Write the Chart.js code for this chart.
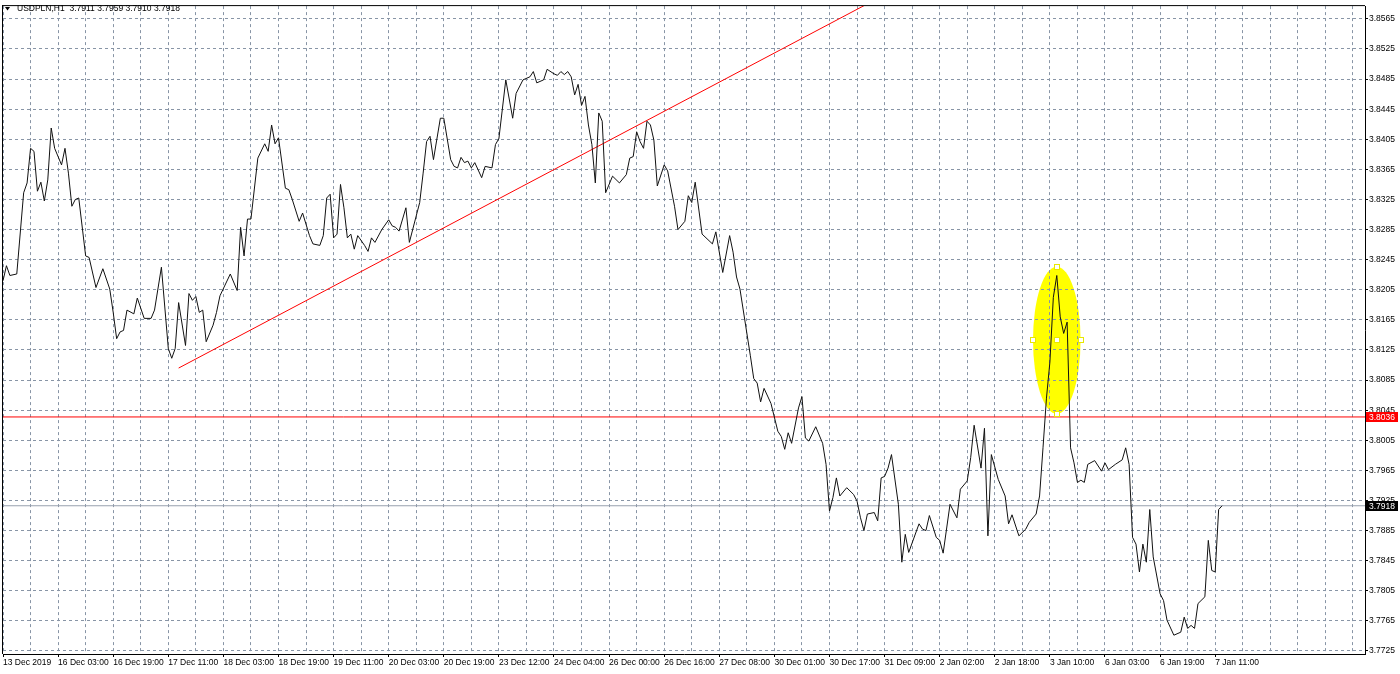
<!DOCTYPE html>
<html>
<head>
<meta charset="utf-8">
<title>USDPLN,H1</title>
<script src="https://cdn.jsdelivr.net/npm/chart.js@4.4.1/dist/chart.umd.min.js"></script>
<style>
  html, body { margin: 0; padding: 0; background: #fff; }
  #wrap { position: relative; width: 1400px; height: 674px; }
</style>
</head>
<body>
<div id="wrap"><canvas id="chart" width="1400" height="674"></canvas></div>
<script>
// --- data (bar index = hours from 13 Dec 2019 11:00, trading bars only) ---
const symbolTitle = 'USDPLN,H1  3.7911 3.7959 3.7910 3.7918';
const timeLabels = ['13 Dec 2019', '16 Dec 03:00', '16 Dec 19:00', '17 Dec 11:00', '18 Dec 03:00', '18 Dec 19:00',
    '19 Dec 11:00', '20 Dec 03:00', '20 Dec 19:00', '23 Dec 12:00', '24 Dec 04:00', '26 Dec 00:00', '26 Dec 16:00',
    '27 Dec 08:00', '30 Dec 01:00', '30 Dec 17:00', '31 Dec 09:00', '2 Jan 02:00', '2 Jan 18:00', '3 Jan 10:00',
    '6 Jan 03:00', '6 Jan 19:00', '7 Jan 11:00'];
const barsPerLabel = 16;
const barsPerGrid = 8;
const priceTicks = [3.7725, 3.7765, 3.7805, 3.7845, 3.7885, 3.7925, 3.7965, 3.8005, 3.8045, 3.8085, 3.8125,
    3.8165, 3.8205, 3.8245, 3.8285, 3.8325, 3.8365, 3.8405, 3.8445, 3.8485, 3.8525, 3.8565];

const barIdx = [0, 1, 2, 4, 6, 7, 8, 9, 10, 11, 12, 13, 14, 15, 17, 18, 19, 20, 21, 22, 24, 25, 27, 29, 31, 32, 33, 34, 35, 36,
    38, 39, 41, 43, 44, 46, 48, 49, 50, 51, 53, 54, 55, 56, 57, 58, 59, 61, 62, 63, 66, 68, 69, 70, 71, 72, 74, 76, 77, 78,
    79, 80, 82, 83, 84, 86, 87, 89, 90, 92, 93, 94, 95, 96, 97, 98, 99, 100, 101, 102, 103, 105, 106, 107, 108, 110, 112, 113, 114, 115,
    117, 118, 121, 122, 123, 124, 125, 127, 128, 130, 131, 132, 133, 134, 135, 136, 137, 139, 140, 142, 143, 144, 146, 148, 149, 151, 153, 154, 155, 157,
    158, 160, 161, 162, 163, 164, 165, 166, 167, 168, 169, 170, 171, 172, 173, 174, 175, 177, 179, 181, 182, 183, 184, 185, 186, 187, 188, 189, 190, 192,
    193, 195, 196, 198, 199, 200, 201, 203, 206, 207, 209, 211, 212, 213, 214, 217, 218, 219, 220, 221, 223, 225, 226, 227, 228, 229, 231, 232, 233, 234,
    236, 238, 239, 240, 241, 242, 243, 245, 247, 248, 249, 250, 251, 253, 254, 255, 256, 257, 258, 260, 261, 262, 263, 266, 267, 268, 269, 271, 272, 273,
    275, 277, 278, 280, 281, 282, 284, 285, 286, 287, 289, 291, 292, 293, 295, 297, 298, 300, 301, 302, 303, 304, 305, 306, 307, 308, 309, 310, 311, 312,
    313, 314, 315, 317, 319, 320, 321, 323, 325, 326, 327, 328, 329, 330, 331, 332, 333, 334, 336, 337, 338, 340, 342, 343, 344, 345, 346, 347, 349, 350,
    351, 352, 353, 354];
const closePrice = [3.8217, 3.8237, 3.8224, 3.8226, 3.8334, 3.8347, 3.8393, 3.8389, 3.8336, 3.8348, 3.8323, 3.8351, 3.8420, 3.8393, 3.8371, 3.8393, 3.8360, 3.8316, 3.8325, 3.8327, 3.8250, 3.8248, 3.8208, 3.8233, 3.8206, 3.8175, 3.8140, 3.8149, 3.8151, 3.8178,
    3.8173, 3.8194, 3.8167, 3.8167, 3.8178, 3.8235, 3.8127, 3.8114, 3.8127, 3.8188, 3.8131, 3.8200, 3.8191, 3.8196, 3.8175, 3.8178, 3.8136, 3.8158, 3.8175, 3.8197, 3.8226, 3.8204, 3.8288, 3.8250, 3.8299, 3.8299, 3.8380, 3.8399, 3.8389, 3.8424,
    3.8399, 3.8407, 3.8340, 3.8338, 3.8325, 3.8296, 3.8307, 3.8277, 3.8266, 3.8264, 3.8277, 3.8327, 3.8332, 3.8274, 3.8279, 3.8345, 3.8314, 3.8274, 3.8279, 3.8259, 3.8277, 3.8264, 3.8256, 3.8274, 3.8268, 3.8285, 3.8298, 3.8290, 3.8288, 3.8283,
    3.8314, 3.8268, 3.8321, 3.8360, 3.8402, 3.8409, 3.8378, 3.8433, 3.8433, 3.8378, 3.8369, 3.8367, 3.8381, 3.8374, 3.8376, 3.8367, 3.8374, 3.8354, 3.8369, 3.8367, 3.8398, 3.8406, 3.8484, 3.8433, 3.8466, 3.8484, 3.8488, 3.8495, 3.8480, 3.8484,
    3.8498, 3.8492, 3.8490, 3.8495, 3.8491, 3.8495, 3.8488, 3.8464, 3.8478, 3.8450, 3.8462, 3.8424, 3.8398, 3.8347, 3.8440, 3.8429, 3.8334, 3.8356, 3.8347, 3.8358, 3.8380, 3.8382, 3.8415, 3.8402, 3.8393, 3.8429, 3.8424, 3.8404, 3.8343, 3.8371,
    3.8363, 3.8316, 3.8285, 3.8296, 3.8330, 3.8321, 3.8348, 3.8279, 3.8266, 3.8282, 3.8228, 3.8277, 3.8255, 3.8222, 3.8206, 3.8118, 3.8087, 3.8081, 3.8056, 3.8074, 3.8054, 3.8017, 3.8010, 3.7993, 3.8015, 3.8001, 3.8048, 3.8063, 3.8008, 3.8004,
    3.8023, 3.8001, 3.7973, 3.7911, 3.7929, 3.7955, 3.7931, 3.7942, 3.7933, 3.7924, 3.7902, 3.7885, 3.7907, 3.7909, 3.7898, 3.7955, 3.7957, 3.7968, 3.7986, 3.7920, 3.7843, 3.7880, 3.7856, 3.7894, 3.7887, 3.7885, 3.7905, 3.7876, 3.7872, 3.7855,
    3.7920, 3.7902, 3.7940, 3.7951, 3.7982, 3.8025, 3.7968, 3.8021, 3.7878, 3.7986, 3.7953, 3.7931, 3.7894, 3.7906, 3.7878, 3.7887, 3.7896, 3.7907, 3.7931, 3.7995, 3.8061, 3.8109, 3.8195, 3.8224, 3.8169, 3.8147, 3.8162, 3.7995, 3.7975, 3.7949,
    3.7952, 3.7949, 3.7973, 3.7978, 3.7964, 3.7975, 3.7966, 3.7973, 3.7979, 3.7995, 3.7973, 3.7876, 3.7867, 3.7830, 3.7867, 3.7843, 3.7913, 3.7850, 3.7801, 3.7792, 3.7766, 3.7746, 3.7750, 3.7770, 3.7755, 3.7759, 3.7755, 3.7788, 3.7797, 3.7872,
    3.7832, 3.7830, 3.7913, 3.7918];

const levelPrice = 3.8036;   // red horizontal line
const bidPrice = 3.7918;     // last price line
const trendBars = [51, 251];
const trendPrices = [3.8101, 3.8585];
const ellipseBar = 306;      // highlighted spike
const ellipsePrice = 3.8138;
const ellipseHalfBars = 6.9;
const ellipseHalfPrice = 0.00977;

const priceMin = 3.7721, priceMax = 3.8582;
const barMax = 395.5;

const FONT = "'Liberation Sans', Arial, sans-serif";
const GRID = '#8895a6';

const mt4Plugin = {
    id: 'mt4',
    beforeDraw(chart) {
        const { ctx, scales: { x, y } } = chart;
        // yellow ellipse sits under the grid like in the terminal
        const cx = x.getPixelForValue(ellipseBar), cy = y.getPixelForValue(ellipsePrice);
        const rx = x.getPixelForValue(ellipseBar + ellipseHalfBars) - cx;
        const ry = cy - y.getPixelForValue(ellipsePrice + ellipseHalfPrice);
        ctx.save();
        ctx.fillStyle = '#ffff00';
        ctx.beginPath();
        ctx.ellipse(cx, cy, rx, ry, 0, 0, Math.PI * 2);
        ctx.fill();
        ctx.restore();
    },
    afterDatasetsDraw(chart) {
        const { ctx, scales: { x, y } } = chart;
        const cx = x.getPixelForValue(ellipseBar), cy = y.getPixelForValue(ellipsePrice);
        const rx = x.getPixelForValue(ellipseBar + ellipseHalfBars) - cx;
        const ry = cy - y.getPixelForValue(ellipsePrice + ellipseHalfPrice);
        ctx.save();
        ctx.fillStyle = '#ffffff';
        ctx.strokeStyle = '#e8e800';
        ctx.lineWidth = 1;
        [[cx, cy], [cx - rx, cy], [cx + rx, cy], [cx, cy - ry], [cx, cy + ry]].forEach(([hx, hy]) => {
            ctx.fillRect(Math.round(hx) - 2, Math.round(hy) - 2, 4, 4);
            ctx.strokeRect(Math.round(hx) - 2.5, Math.round(hy) - 2.5, 5, 5);
        });
        ctx.restore();
    },
    afterDraw(chart) {
        const { ctx, chartArea, scales: { y } } = chart;
        ctx.save();
        // frame: left and top edges
        ctx.fillStyle = '#000';
        ctx.fillRect(chartArea.left - 1, chartArea.top - 1, 1, chartArea.bottom - chartArea.top + 1);
        ctx.fillRect(chartArea.left - 1, chartArea.top - 1, chartArea.right - chartArea.left + 1, 1);

        // title
        ctx.beginPath();
        ctx.moveTo(5, 7); ctx.lineTo(10, 7); ctx.lineTo(7.5, 10.5); ctx.closePath();
        ctx.fill();
        ctx.font = '8.5px ' + FONT;
        ctx.textBaseline = 'middle';
        ctx.textAlign = 'left';
        ctx.fillText(symbolTitle, 17, 9);

        // price boxes on the right scale
        ctx.font = '8.5px ' + FONT;
        const boxes = [[levelPrice, '#ff0000'], [bidPrice, '#000000']];
        boxes.forEach(([p, bg]) => {
            const py = Math.round(y.getPixelForValue(p));
            ctx.fillStyle = bg;
            ctx.fillRect(chartArea.right + 1, py - 5, 32, 10);
            ctx.fillStyle = '#ffffff';
            ctx.fillText(p.toFixed(4), chartArea.right + 4, py + 0.5);
        });
        ctx.restore();
    }
};

const ctx = document.getElementById('chart').getContext('2d');
new Chart(ctx, {
    type: 'line',
    data: {
        datasets: [
            {
                label: 'USDPLN',
                data: barIdx.map((b, i) => ({ x: b, y: closePrice[i] })),
                borderColor: '#111111',
                borderWidth: 1,
                pointRadius: 0,
                tension: 0
            },
            {
                label: 'Trend',
                data: trendBars.map((b, i) => ({ x: b, y: trendPrices[i] })),
                borderColor: '#ff0000',
                borderWidth: 1,
                pointRadius: 0
            },
            {
                label: 'Level',
                data: [{ x: 0, y: levelPrice }, { x: barMax, y: levelPrice }],
                borderColor: '#ff0000',
                borderWidth: 1,
                pointRadius: 0
            },
            {
                label: 'Bid',
                data: [{ x: 0, y: bidPrice }, { x: barMax, y: bidPrice }],
                borderColor: '#97a1ae',
                borderWidth: 1,
                pointRadius: 0
            }
        ]
    },
    options: {
        responsive: false,
        animation: false,
        devicePixelRatio: 1,
        layout: { padding: { left: 3, top: 2, right: 0, bottom: 0 } },
        plugins: {
            legend: { display: false },
            tooltip: { enabled: false },
            title: { display: false }
        },
        scales: {
            x: {
                type: 'linear',
                min: 0,
                max: barMax,
                afterBuildTicks: (scale) => {
                    let t = [];
                    for (let b = 0; b <= barMax; b += barsPerGrid) { t.push({ value: b }); }
                    scale.ticks = t;
                },
                afterFit: (scale) => { scale.height = 20; },
                ticks: {
                    autoSkip: false,
                    maxRotation: 0,
                    minRotation: 0,
                    align: 'start',
                    padding: 1,
                    color: '#000',
                    font: { family: FONT, size: 8.5 },
                    callback: (value) => value % barsPerLabel === 0 ? (timeLabels[value / barsPerLabel] || '') : ''
                },
                grid: {
                    color: GRID,
                    lineWidth: 1,
                    drawTicks: true,
                    tickLength: 3,
                    tickColor: (c) => (c.tick && c.tick.label) ? '#000' : 'rgba(0,0,0,0)'
                },
                border: { display: true, color: '#000', width: 1, dash: [3, 3] }
            },
            y: {
                position: 'right',
                min: priceMin,
                max: priceMax,
                afterBuildTicks: (scale) => { scale.ticks = priceTicks.map(v => ({ value: v })); },
                afterFit: (scale) => { scale.width = 35; },
                ticks: {
                    padding: 1,
                    color: '#000',
                    font: { family: FONT, size: 8.5 },
                    callback: (value) => value.toFixed(4)
                },
                grid: {
                    color: GRID,
                    lineWidth: 1,
                    drawTicks: true,
                    tickLength: 3,
                    tickColor: '#000'
                },
                border: { display: true, color: '#000', width: 1, dash: [3, 3] }
            }
        }
    },
    plugins: [mt4Plugin]
});
</script>
</body>
</html>
